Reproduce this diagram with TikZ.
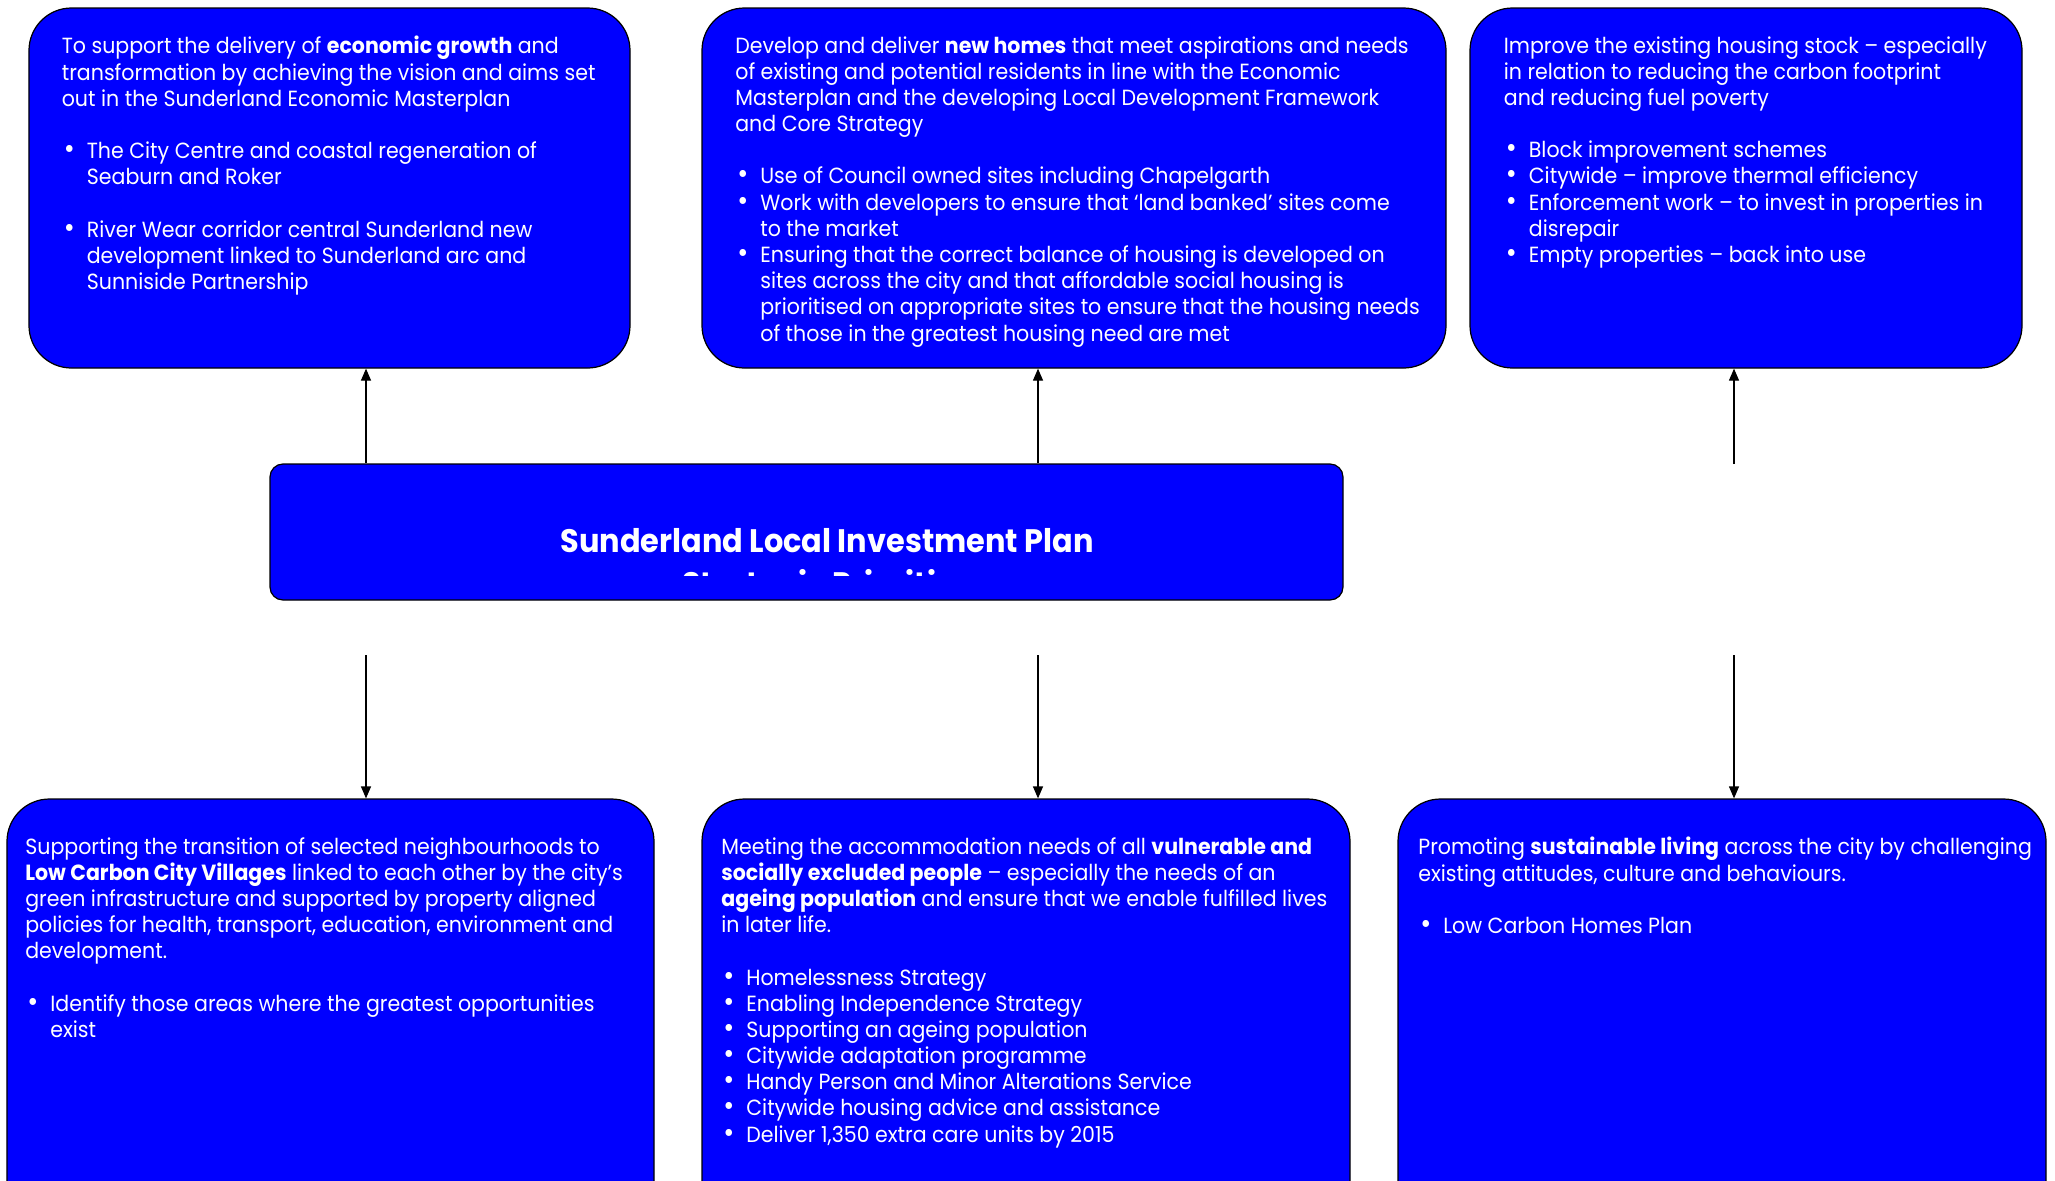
\documentclass[tikz,border=0pt]{standalone}
\usepackage{fontspec}
\setmainfont{Poppins}[FakeStretch=0.935]
\usepackage{tikz}
\usetikzlibrary{arrows.meta,positioning}
\definecolor{prioblue}{rgb}{0, 0, 1}
\tikzstyle{prio box}=[draw=black, line width=0.7pt, fill=prioblue, rounded corners=0.85cm, inner sep=0pt]
\tikzstyle{plan box}=[draw=black, line width=0.7pt, fill=prioblue, rounded corners=0.26cm, inner sep=0pt]
\tikzstyle{prio text}=[text=white, align=left, anchor=north west, inner sep=0pt, font=\fontsize{12.5}{14.9}\selectfont, execute at begin node=\strut]
\tikzstyle{plan text}=[text=white, anchor=base, inner sep=0pt, font=\fontsize{18.5}{22}\selectfont\bfseries]
\tikzstyle{link}=[-{Triangle[length=0.24cm,width=0.2cm]}, line width=0.7pt]
\newcommand{\bul}{\makebox[0.5cm][l]{\hspace{0.04cm}\scalebox{1.3}{\textbullet}}}
\newcommand{\ind}{\hspace*{0.5cm}}

\begin{document}
\begin{tikzpicture}
\clip (0,0) rectangle (41.1,-23.6);
% top row
\node[prio box, minimum width=12.02cm, minimum height=7.2cm] (growth) at (6.59,-3.76) {};
\node[prio box, minimum width=14.88cm, minimum height=7.2cm] (homes) at (21.48,-3.76) {};
\node[prio box, minimum width=11.04cm, minimum height=7.2cm] (stock) at (34.92,-3.76) {};
% centre
\node[plan box, minimum width=21.46cm, minimum height=2.72cm] (plan) at (16.13,-10.64) {};
\node[plan text] (plantitle) at (16.54,-11.05) {Sunderland Local Investment Plan};
\begin{scope}
\clip (5.4,-9.28) rectangle (26.86,-11.5);
\node[plan text] (plansub) at (16.54,-11.91) {Strategic Priorities};
\end{scope}
% bottom row
\node[prio box, minimum width=12.94cm, minimum height=8.62cm] (villages) at (6.61,-20.29) {};
\node[prio box, minimum width=12.96cm, minimum height=8.62cm] (needs) at (20.52,-20.29) {};
\node[prio box, minimum width=12.96cm, minimum height=8.62cm] (living) at (34.44,-20.29) {};

\node[prio text] (growthtxt) at (1.23,-0.72) {To support the delivery of \textbf{economic growth} and\\
transformation by achieving the vision and aims set\\
out in the Sunderland Economic Masterplan\\[14.9pt]
\bul The City Centre and coastal regeneration of\\
\ind Seaburn and Roker\\[14.9pt]
\bul River Wear corridor central Sunderland new\\
\ind development linked to Sunderland arc and\\
\ind Sunniside Partnership};
\node[prio text] (homestxt) at (14.70,-0.72) {Develop and deliver \textbf{new homes} that meet aspirations and needs\\
of existing and potential residents in line with the Economic\\
Masterplan and the developing Local Development Framework\\
and Core Strategy\\[14.9pt]
\bul Use of Council owned sites including Chapelgarth\\
\bul Work with developers to ensure that `land banked' sites come\\
\ind to the market\\
\bul Ensuring that the correct balance of housing is developed on\\
\ind sites across the city and that affordable social housing is\\
\ind prioritised on appropriate sites to ensure that the housing needs\\
\ind of those in the greatest housing need are met};
\node[prio text] (stocktxt) at (30.07,-0.72) {Improve the existing housing stock -- especially\\
in relation to reducing the carbon footprint\\
and reducing fuel poverty\\[14.9pt]
\bul Block improvement schemes\\
\bul Citywide -- improve thermal efficiency\\
\bul Enforcement work -- to invest in properties in\\
\ind disrepair\\
\bul Empty properties -- back into use};
\node[prio text] (villagestxt) at (0.50,-16.74) {Supporting the transition of selected neighbourhoods to\\
\textbf{Low Carbon City Villages} linked to each other by the city's\\
green infrastructure and supported by property aligned\\
policies for health, transport, education, environment and\\
development.\\[14.9pt]
\bul Identify those areas where the greatest opportunities\\
\ind exist};
\node[prio text] (needstxt) at (14.42,-16.74) {Meeting the accommodation needs of all \textbf{vulnerable and}\\
\textbf{socially excluded people} -- especially the needs of an\\
\textbf{ageing population} and ensure that we enable fulfilled lives\\
in later life.\\[14.9pt]
\bul Homelessness Strategy\\
\bul Enabling Independence Strategy\\
\bul Supporting an ageing population\\
\bul Citywide adaptation programme\\
\bul Handy Person and Minor Alterations Service\\
\bul Citywide housing advice and assistance\\
\bul Deliver 1,350 extra care units by 2015};
\node[prio text] (livingtxt) at (28.36,-16.74) {Promoting \textbf{sustainable living} across the city by challenging\\
existing attitudes, culture and behaviours.\\[14.9pt]
\bul Low Carbon Homes Plan};

% connectors
\coordinate (up3) at (34.68,-9.28);
\coordinate (down1) at (7.32,-13.1);
\coordinate (down2) at (20.76,-13.1);
\coordinate (down3) at (34.68,-13.1);
\draw[link] (plan.north -| down1) -- (growth.south -| down1);
\draw[link] (plan.north -| down2) -- (homes.south -| down2);
\draw[link] (up3) -- (stock.south -| up3);
\draw[link] (down1) -- (villages.north -| down1);
\draw[link] (down2) -- (needs.north -| down2);
\draw[link] (down3) -- (living.north -| down3);
\end{tikzpicture}
\end{document}
